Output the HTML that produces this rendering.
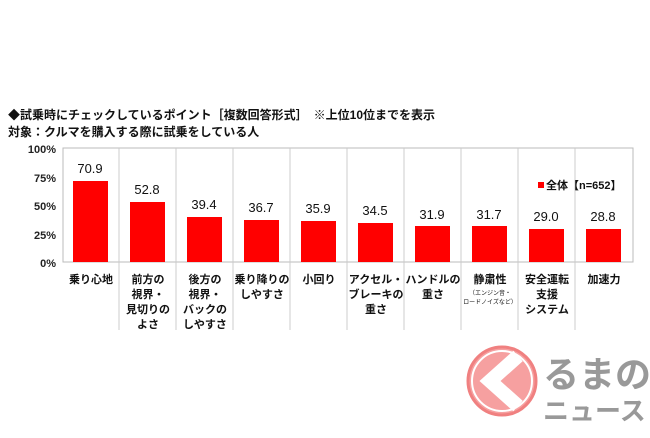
<!DOCTYPE html>
<html><head><meta charset="utf-8"><style>
body{margin:0;width:650px;height:433px;background:#fff;overflow:hidden;font-family:"Liberation Sans","Noto Sans CJK JP",sans-serif;}
</style></head><body>
<svg width="650" height="433" xmlns="http://www.w3.org/2000/svg" font-family="Liberation Sans, Noto Sans CJK JP, sans-serif">
<text x="8" y="119" font-size="12" font-weight="bold" fill="#111">◆試乗時にチェックしているポイント［複数回答形式］　※上位10位までを表示</text>
<text x="8" y="136" font-size="12" font-weight="bold" fill="#111">対象：クルマを購入する際に試乗をしている人</text>
<g font-size="11" font-weight="bold" fill="#222" text-anchor="end">
<text x="56" y="153">100%</text><text x="56" y="182">75%</text><text x="56" y="210">50%</text><text x="56" y="239">25%</text><text x="56" y="267">0%</text>
</g>
<rect x="63" y="148" width="570" height="114" fill="none" stroke="#bbb" stroke-width="1"/>
<g stroke="#ccc" stroke-width="1">
<line x1="119" y1="148" x2="119" y2="330"/><line x1="176" y1="148" x2="176" y2="330"/><line x1="233" y1="148" x2="233" y2="330"/><line x1="290" y1="148" x2="290" y2="330"/><line x1="347" y1="148" x2="347" y2="330"/><line x1="404" y1="148" x2="404" y2="330"/><line x1="461" y1="148" x2="461" y2="330"/><line x1="518" y1="148" x2="518" y2="330"/><line x1="575" y1="148" x2="575" y2="330"/>
</g>
<g fill="#f00">
<rect x="73" y="181" width="35" height="81"/>
<rect x="130" y="202" width="35" height="60"/>
<rect x="187" y="217" width="35" height="45"/>
<rect x="244" y="220" width="35" height="42"/>
<rect x="301" y="221" width="35" height="41"/>
<rect x="358" y="223" width="35" height="39"/>
<rect x="415" y="226" width="35" height="36"/>
<rect x="472" y="226" width="35" height="36"/>
<rect x="529" y="229" width="35" height="33"/>
<rect x="586" y="229" width="35" height="33"/>
</g>
<g font-size="13" fill="#111" text-anchor="middle">
<text x="90" y="173">70.9</text><text x="147" y="194">52.8</text><text x="204" y="209">39.4</text><text x="261" y="212">36.7</text><text x="318" y="213">35.9</text><text x="375" y="215">34.5</text><text x="432" y="219">31.9</text><text x="489" y="219">31.7</text><text x="546" y="221">29.0</text><text x="603" y="221">28.8</text>
</g>
<rect x="538" y="182" width="6" height="6" fill="#f00"/>
<text x="546" y="189" font-size="11" font-weight="bold" fill="#111">全体【n=652】</text>
<g font-size="11" font-weight="bold" fill="#111" text-anchor="middle">
<text x="91" y="283">乗り心地</text>
<text x="148" y="283">前方の</text><text x="148" y="298">視界・</text><text x="148" y="313">見切りの</text><text x="148" y="328">よさ</text>
<text x="205" y="283">後方の</text><text x="205" y="298">視界・</text><text x="205" y="313">バックの</text><text x="205" y="328">しやすさ</text>
<text x="262" y="283">乗り降りの</text><text x="262" y="298">しやすさ</text>
<text x="319" y="283">小回り</text>
<text x="376" y="283">アクセル・</text><text x="376" y="298">ブレーキの</text><text x="376" y="313">重さ</text>
<text x="433" y="283">ハンドルの</text><text x="433" y="298">重さ</text>
<text x="490" y="283">静粛性</text>
<text x="547" y="283">安全運転</text><text x="547" y="298">支援</text><text x="547" y="313">システム</text>
<text x="604" y="283">加速力</text>
</g>
<g font-size="6" fill="#111" text-anchor="middle"><text x="490" y="295">（エンジン音・</text><text x="490" y="304">ロードノイズなど）</text></g>
<circle cx="502" cy="381" r="34" fill="#f6a0a0" stroke="#f08080" stroke-width="3"/>
<circle cx="502" cy="381" r="30" fill="none" stroke="#fff" stroke-width="2"/>
<path d="M518 356 L490 381 L518 406" fill="none" stroke="#fff" stroke-width="14" stroke-linejoin="miter"/>
<text x="543" y="387" font-size="36" font-weight="bold" fill="#999">るまの</text>
<text x="543" y="420" font-size="26" font-weight="bold" fill="#999">ニュース</text>
</svg>
</body></html>
